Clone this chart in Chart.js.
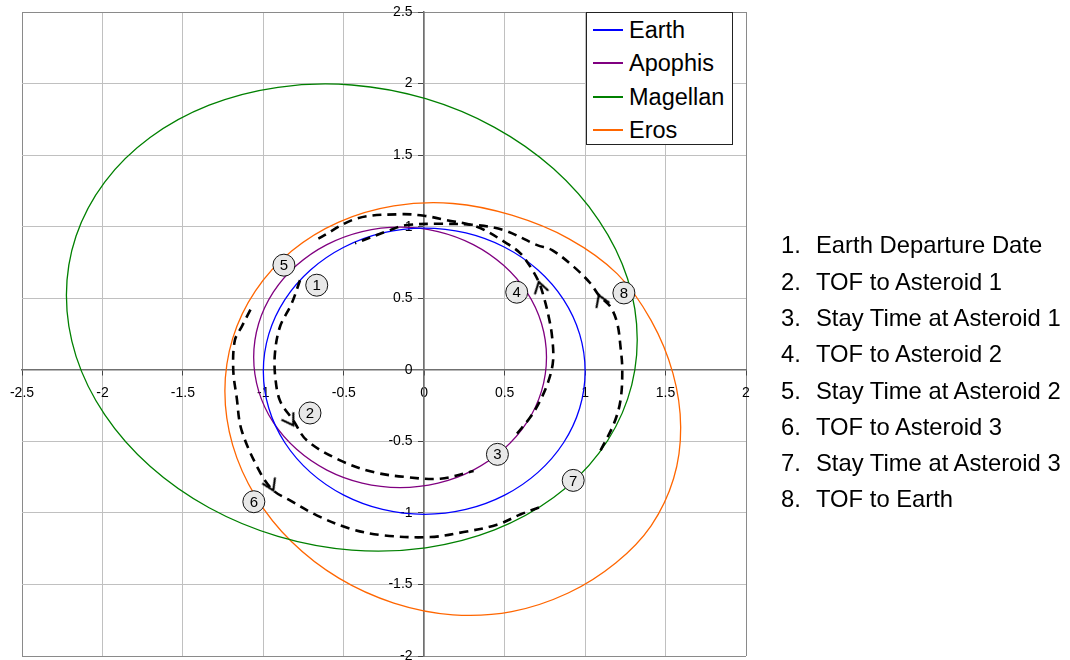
<!DOCTYPE html>
<html>
<head>
<meta charset="utf-8">
<script src="https://cdn.jsdelivr.net/npm/chart.js@4.4.1/dist/chart.umd.min.js"></script>
<style>
  body { margin: 0; background: #fff; font-family: "Liberation Sans", Arial, sans-serif; }
  #wrap { position: relative; width: 1070px; height: 660px; }
  #legend { position: absolute; left: 586px; top: 12px; width: 147px; height: 133px; box-sizing: border-box;
            border: 1px solid #222; background: #fff; }
  #legend .row { position: absolute; left: 0; height: 30px; display: flex; align-items: center; font-size: 23.5px; color: #000; }
  #legend .swatch { width: 30px; height: 1.6px; margin: 0 6px 0 6px; }
  .note { position: absolute; font-size: 23.8px; color: #000; white-space: nowrap; line-height: 28px; }
</style>
</head>
<body>
<div id="wrap">
  <canvas id="orbits" width="1070" height="660"></canvas>
  <div id="legend"></div>
  <div id="notes"></div>
</div>
<script>
// axis ticks
const xTicks = [-2.5, -2, -1.5, -1, -0.5, 0, 0.5, 1, 1.5, 2];
const yTicks = [-2, -1.5, -1, -0.5, 0, 0.5, 1, 1.5, 2, 2.5];

// orbits (AU); each list closes on its first point
const earthX = [1.000, 0.966, 0.866, 0.707, 0.500, 0.259, 0.000, -0.259, -0.500, -0.707, -0.866, -0.966, -1.000, -0.966, -0.866, -0.707, -0.500, -0.259, 0.000, 0.259, 0.500, 0.707, 0.866, 0.966, 1.000];
const earthY = [-0.010, 0.249, 0.490, 0.697, 0.856, 0.956, 0.990, 0.956, 0.856, 0.697, 0.490, 0.249, -0.010, -0.269, -0.510, -0.717, -0.876, -0.976, -1.010, -0.976, -0.876, -0.717, -0.510, -0.269, -0.010];

const apophisX = [0.760, 0.729, 0.638, 0.493, 0.305, 0.086, -0.150, -0.386, -0.605, -0.793, -0.938, -1.029, -1.060, -1.029, -0.938, -0.793, -0.605, -0.386, -0.150, 0.086, 0.305, 0.493, 0.638, 0.729, 0.760];
const apophisY = [0.087, 0.323, 0.542, 0.730, 0.875, 0.966, 0.997, 0.966, 0.875, 0.730, 0.542, 0.323, 0.087, -0.149, -0.368, -0.556, -0.701, -0.792, -0.823, -0.792, -0.701, -0.556, -0.368, -0.149, 0.087];

const magellanX = [1.324, 1.264, 1.086, 0.804, 0.437, 0.009, -0.450, -0.909, -1.337, -1.704, -1.986, -2.164, -2.224, -2.164, -1.986, -1.704, -1.337, -0.909, -0.450, 0.009, 0.437, 0.804, 1.086, 1.264, 1.324];
const magellanY = [0.210, 0.636, 1.043, 1.404, 1.694, 1.894, 1.990, 1.974, 1.849, 1.623, 1.312, 0.935, 0.520, 0.094, -0.313, -0.674, -0.964, -1.164, -1.260, -1.244, -1.119, -0.893, -0.582, -0.205, 0.210];

const erosX = [1.594, 1.546, 1.410, 1.200, 0.900, 0.544, 0.178, -0.189, -0.531, -0.824, -1.049, -1.191, -1.239, -1.191, -1.049, -0.824, -0.531, -0.189, 0.178, 0.544, 0.895, 1.190, 1.410, 1.550, 1.594];
const erosY = [-0.401, -0.025, 0.345, 0.670, 0.915, 1.080, 1.162, 1.145, 1.032, 0.830, 0.552, 0.218, -0.149, -0.525, -0.884, -1.202, -1.456, -1.630, -1.712, -1.690, -1.560, -1.350, -1.090, -0.760, -0.401];

// transfer legs (dashed)
const leg1X = [-0.772, -0.824, -0.897, -0.928, -0.925, -0.895, -0.814, -0.73, -0.523, -0.316, -0.108, 0.10, 0.307];
const leg1Y = [0.626, 0.463, 0.299, 0.113, -0.06, -0.22, -0.353, -0.493, -0.633, -0.715, -0.75, -0.761, -0.708];
const leg2X = [0.577, 0.66, 0.722, 0.774, 0.801, 0.795, 0.774, 0.743, 0.712, 0.66, 0.598, 0.515, 0.328, 0.141, 0.0, -0.149, -0.419, -0.658];
const leg2Y = [-0.446, -0.33, -0.213, -0.073, 0.066, 0.229, 0.369, 0.509, 0.614, 0.719, 0.813, 0.882, 0.999, 1.045, 1.076, 1.087, 1.057, 0.917];
const leg3X = [-1.08, -1.135, -1.177, -1.187, -1.166, -1.135, -1.021, -0.938, -0.834, -0.668, -0.461, -0.253, 0.037, 0.245, 0.452, 0.60, 0.722];
const leg3Y = [0.42, 0.30, 0.206, 0.0, -0.19, -0.423, -0.715, -0.843, -0.913, -1.017, -1.11, -1.157, -1.169, -1.134, -1.083, -1.01, -0.959];
const leg4X = [1.096, 1.179, 1.22, 1.231, 1.22, 1.2, 1.158, 1.085, 1.034, 0.93, 0.795, 0.702, 0.494, 0.33, 0.10, -0.118, -0.212, -0.43];
const leg4Y = [-0.563, -0.376, -0.213, 0.0, 0.16, 0.323, 0.439, 0.521, 0.603, 0.719, 0.836, 0.871, 0.976, 1.01, 1.02, 1.01, 0.976, 0.884];

// direction arrows and numbered event markers
const arrowX = [-0.814, 0.712, -0.938, 1.085];
const arrowY = [-0.388, 0.614, -0.843, 0.521];
const arrowAngle = [148, -15, 155, -22];
const markerX = [-0.668, -0.710, 0.455, 0.575, -0.872, -1.059, 0.926, 1.241];
const markerY = [0.591, -0.302, -0.591, 0.542, 0.731, -0.922, -0.773, 0.537];
const markerLabels = ['1', '2', '3', '4', '5', '6', '7', '8'];

const seriesNames = ['Earth', 'Apophis', 'Magellan', 'Eros'];
const seriesColors = ['#0000ff', '#800080', '#008000', '#ff6600'];
const noteLines = ['Earth Departure Date', 'TOF to Asteroid 1', 'Stay Time at Asteroid 1', 'TOF to Asteroid 2',
                   'Stay Time at Asteroid 2', 'TOF to Asteroid 3', 'Stay Time at Asteroid 3', 'TOF to Earth'];

const FONT = '"Liberation Sans", Arial, sans-serif';
const pts = (xs, ys) => xs.map((x, i) => ({x: x, y: ys[i]}));

// closed orbit: pad one point on each side so the spline is smooth at the seam,
// and hide the two padding segments
function orbit(i, xs, ys) {
  const n = xs.length;
  return {
    label: seriesNames[i],
    data: pts([xs[n - 2]].concat(xs, [xs[1]]), [ys[n - 2]].concat(ys, [ys[1]])),
    showLine: true, borderColor: seriesColors[i], borderWidth: 1.3, pointRadius: 0, tension: 0.35, order: 3 + i,
    segment: {
      borderColor: c => (c.p0DataIndex === 0 || c.p1DataIndex === n + 1) ? 'rgba(0,0,0,0)' : undefined
    }
  };
}
function leg(name, xs, ys) {
  return {
    label: name, data: pts(xs, ys), showLine: true, borderColor: '#000', borderWidth: 2.6,
    borderDash: [9, 6], pointRadius: 0, tension: 0.35, order: 2
  };
}

// open chevron used as the arrow point style
const chevron = document.createElement('canvas');
chevron.width = 28; chevron.height = 28;
(function () {
  const g = chevron.getContext('2d');
  g.strokeStyle = '#000'; g.lineWidth = 2.2;
  g.beginPath(); g.moveTo(7, 25); g.lineTo(14, 14); g.lineTo(21, 25); g.stroke();
})();

const datasets = [
  orbit(0, earthX, earthY),
  orbit(1, apophisX, apophisY),
  orbit(2, magellanX, magellanY),
  orbit(3, erosX, erosY),
  leg('leg1', leg1X, leg1Y),
  leg('leg2', leg2X, leg2Y),
  leg('leg3', leg3X, leg3Y),
  leg('leg4', leg4X, leg4Y),
  {
    label: 'arrows', data: pts(arrowX, arrowY), showLine: false, order: 1,
    pointStyle: chevron, pointRadius: 10, pointRotation: c => arrowAngle[c.dataIndex]
  },
  {
    label: 'markers', data: pts(markerX, markerY), showLine: false, order: 0,
    pointRadius: 11, pointBackgroundColor: '#e8e8e8', pointBorderColor: '#111', pointBorderWidth: 1
  }
];
const markerIndex = datasets.length - 1;

const markerText = {
  id: 'markerText',
  afterDatasetsDraw(chart) {
    const ctx = chart.ctx;
    ctx.save();
    ctx.font = '15px ' + FONT;
    ctx.fillStyle = '#000';
    ctx.textAlign = 'center';
    ctx.textBaseline = 'middle';
    chart.getDatasetMeta(markerIndex).data.forEach((p, i) => ctx.fillText(markerLabels[i], p.x, p.y + 1));
    ctx.restore();
  }
};

function axis(ticks, posKey, pad, fmt) {
  const lo = ticks[0], hi = ticks[ticks.length - 1];
  return {
    type: 'linear', min: lo, max: hi, position: posKey,
    afterBuildTicks: a => { a.ticks = ticks.map(v => ({value: v})); },
    // labels may hang over the plot edge, as in the original; keep the plot box fixed
    afterFit: s => { s.paddingLeft = 0; s.paddingRight = 0; s.paddingTop = 0; s.paddingBottom = 0; },
    grid: {
      color: c => (c.tick && (c.tick.value === lo || c.tick.value === hi)) ? '#8a8a8a' : '#c0c0c0',
      lineWidth: 1, tickLength: 5, tickColor: '#444'
    },
    border: {color: '#707070', width: 1.5},
    ticks: {
      color: '#000', font: {family: FONT, size: 14}, autoSkip: false, maxRotation: 0,
      padding: pad, callback: fmt
    }
  };
}

new Chart(document.getElementById('orbits'), {
  type: 'scatter',
  data: {datasets: datasets},
  options: {
    responsive: false, maintainAspectRatio: false, animation: false, events: [],
    layout: {autoPadding: false, padding: {left: 22, top: 12, right: 324, bottom: 4}},
    plugins: {legend: {display: false}, tooltip: {enabled: false}},
    scales: {
      x: axis(xTicks, {y: 0}, 10, v => String(v)),
      // a centred y axis right-aligns labels on the axis line itself, so pad them off it
      y: axis(yTicks, {x: 0}, 0, v => String(v) + '   ')
    }
  },
  plugins: [markerText]
});

// legend box inside the plot
const legendEl = document.getElementById('legend');
const legendRowTop = [2, 35, 69, 102];
seriesNames.forEach((n, i) => {
  const r = document.createElement('div');
  r.className = 'row';
  r.style.top = legendRowTop[i] + 'px';
  r.innerHTML = '<span class="swatch" style="background:' + seriesColors[i] + '"></span><span>' + n + '</span>';
  legendEl.appendChild(r);
});

// numbered list on the right
const notesEl = document.getElementById('notes');
const noteCenters = [245, 281.5, 318, 354, 390.5, 426.5, 462.5, 498.5];
noteLines.forEach((t, i) => {
  const num = document.createElement('div');
  num.className = 'note';
  num.style.left = '781px'; num.style.top = (noteCenters[i] - 14) + 'px';
  num.textContent = (i + 1) + '.';
  const txt = document.createElement('div');
  txt.className = 'note';
  txt.style.left = '816px'; txt.style.top = (noteCenters[i] - 14) + 'px';
  txt.textContent = t;
  notesEl.appendChild(num); notesEl.appendChild(txt);
});
</script>
</body>
</html>
